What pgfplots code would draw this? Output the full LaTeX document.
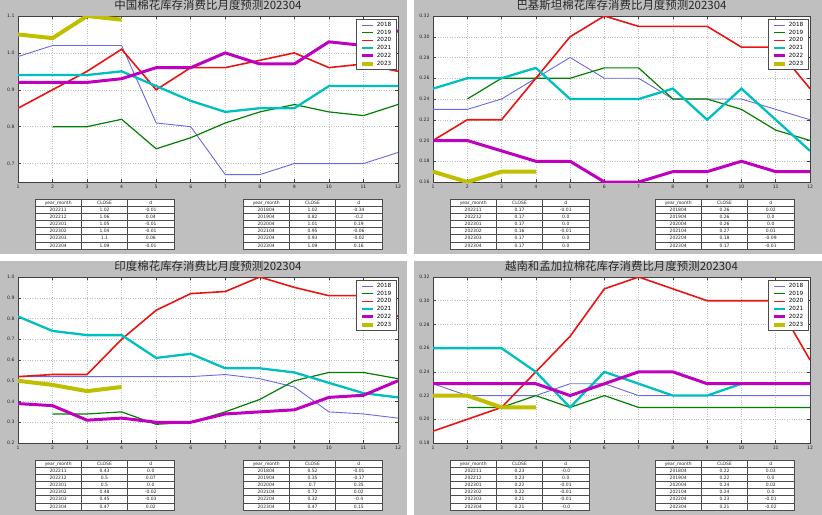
\documentclass[border=0pt]{standalone}
\usepackage{fontspec}
\setmainfont{DejaVu Sans}
\newfontfamily\cjk{Noto Sans CJK SC}
\usepackage{pgfplots}
\pgfplotsset{compat=1.18}

\definecolor{panelgray}{RGB}{191,191,191}
\definecolor{c18}{RGB}{105,105,230}
\definecolor{c19}{RGB}{0,128,0}
\definecolor{c20}{RGB}{235,20,20}
\definecolor{c21}{RGB}{0,191,191}
\definecolor{c22}{RGB}{191,0,191}
\definecolor{c23}{RGB}{191,191,0}

\newcommand\ticfont{\fontsize{4.6}{5}\selectfont}
\newcommand\tabfont{\fontsize{4.5}{5}\selectfont}

\pgfplotsset{
  panel/.style={
    scale only axis, height=166bp,
    xmin=1, xmax=12, xtick={1,...,12},
    grid=major, grid style={dotted, black!25, line width=0.5bp},
    axis line style={black!75, line width=0.7bp},
    tick style={black!75, line width=0.5bp},
    tick align=inside, major tick length=3bp,
    ticklabel style={font=\ticfont, text=black!85},
    scaled ticks=false,
    /pgf/number format/assume math mode=true,
    axis background/.style={fill=white},
    title style={at={(0.5,1)}, anchor=center, yshift=4.5bp,
      font=\cjk\fontsize{11.5}{12}\selectfont, text=black!85},
    legend style={at={(0.997,0.982)}, anchor=north east,
      font=\fontsize{5.7}{6}\selectfont, draw=black!70, line width=0.6bp,
      fill=white, inner xsep=3.5bp, inner ysep=2bp, row sep=0bp,
      cells={anchor=west}, nodes={inner ysep=1bp, inner xsep=1.8bp}},
    legend image code/.code={\draw[##1] (0bp,0bp) -- (11bp,0bp);},
  },
  s18/.style={c18, line width=0.9bp},
  s19/.style={c19, line width=1.2bp},
  s20/.style={c20, line width=1.6bp},
  s21/.style={c21, line width=2.3bp},
  s22/.style={c22, line width=3bp},
  s23/.style={c23, line width=4bp},
}

% table: x left, y top, rows
\newcommand\datatable[3]{%
  \begin{scope}[shift={(#1bp,-#2bp)}, x=1bp, y=1bp]
    \fill[white] (0,0) rectangle (139,-50);
    \foreach \a/\b/\c [count=\r from 0] in {#3} {
      \node[font=\tabfont, text=black!85, inner sep=0, anchor=base] at (23.2,{-(\r+0.5)*50/7-1.6}) {\a};
      \node[font=\tabfont, text=black!85, inner sep=0, anchor=base] at (69.5,{-(\r+0.5)*50/7-1.6}) {\b};
      \node[font=\tabfont, text=black!85, inner sep=0, anchor=base] at (115.8,{-(\r+0.5)*50/7-1.6}) {\c};
    }
    \foreach \r in {1,...,6} \draw[black!70, line width=0.5bp] (0,{-\r*50/7}) -- (139,{-\r*50/7});
    \draw[black!70, line width=0.5bp] (46.3,0) -- (46.3,-50) (92.7,0) -- (92.7,-50);
    \draw[black!70, line width=0.6bp] (0,0) rectangle (139,-50);
  \end{scope}}

\begin{document}
\begin{tikzpicture}
\path[use as bounding box] (0,0) rectangle (822bp,-515bp);
\fill[white] (0,0) rectangle (822bp,-515bp);
\fill[panelgray] (0,0) rectangle (407bp,-254bp);
\fill[panelgray] (414bp,0) rectangle (822bp,-254bp);
\fill[panelgray] (0,-261bp) rectangle (407bp,-515bp);
\fill[panelgray] (414bp,-261bp) rectangle (822bp,-515bp);

% ---------- China ----------
\begin{axis}[panel, width=380bp, at={(18bp,-182bp)}, anchor=south west,
  title={中国棉花库存消费比月度预测202304},
  ymin=0.65, ymax=1.1, ytick={0.7,0.8,0.9,1.0,1.1},
  yticklabel style={/pgf/number format/.cd, fixed, fixed zerofill, precision=1}]
\addplot[s18] coordinates {(1,0.99)(2,1.02)(3,1.02)(4,1.02)(5,0.81)(6,0.80)(7,0.67)(8,0.67)(9,0.70)(10,0.70)(11,0.70)(12,0.73)};
\addplot[s19] coordinates {(2,0.80)(3,0.80)(4,0.82)(5,0.74)(6,0.77)(7,0.81)(8,0.84)(9,0.86)(10,0.84)(11,0.83)(12,0.86)};
\addplot[s20] coordinates {(1,0.85)(2,0.90)(3,0.95)(4,1.01)(5,0.90)(6,0.96)(7,0.96)(8,0.98)(9,1.00)(10,0.96)(11,0.97)(12,0.95)};
\addplot[s21] coordinates {(1,0.94)(2,0.94)(3,0.94)(4,0.95)(5,0.91)(6,0.87)(7,0.84)(8,0.85)(9,0.85)(10,0.91)(11,0.91)(12,0.91)};
\addplot[s22] coordinates {(1,0.92)(2,0.92)(3,0.92)(4,0.93)(5,0.96)(6,0.96)(7,1.00)(8,0.97)(9,0.97)(10,1.03)(11,1.02)(12,1.06)};
\addplot[s23] coordinates {(1,1.05)(2,1.04)(3,1.10)(4,1.09)};
\legend{2018,2019,2020,2021,2022,2023}
\end{axis}

% ---------- Pakistan ----------
\begin{axis}[panel, width=377bp, at={(433bp,-182bp)}, anchor=south west,
  title={巴基斯坦棉花库存消费比月度预测202304},
  ymin=0.16, ymax=0.32, ytick={0.16,0.18,0.20,0.22,0.24,0.26,0.28,0.30,0.32},
  yticklabel style={/pgf/number format/.cd, fixed, fixed zerofill, precision=2}]
\addplot[s18] coordinates {(1,0.23)(2,0.23)(3,0.24)(4,0.26)(5,0.28)(6,0.26)(7,0.26)(8,0.24)(9,0.24)(10,0.24)(11,0.23)(12,0.22)};
\addplot[s19] coordinates {(2,0.24)(3,0.26)(4,0.26)(5,0.26)(6,0.27)(7,0.27)(8,0.24)(9,0.24)(10,0.23)(11,0.21)(12,0.20)};
\addplot[s20] coordinates {(1,0.20)(2,0.22)(3,0.22)(4,0.26)(5,0.30)(6,0.32)(7,0.31)(8,0.31)(9,0.31)(10,0.29)(11,0.29)(12,0.25)};
\addplot[s21] coordinates {(1,0.25)(2,0.26)(3,0.26)(4,0.27)(5,0.24)(6,0.24)(7,0.24)(8,0.25)(9,0.22)(10,0.25)(11,0.22)(12,0.19)};
\addplot[s22] coordinates {(1,0.20)(2,0.20)(3,0.19)(4,0.18)(5,0.18)(6,0.16)(7,0.16)(8,0.17)(9,0.17)(10,0.18)(11,0.17)(12,0.17)};
\addplot[s23] coordinates {(1,0.17)(2,0.16)(3,0.17)(4,0.17)};
\legend{2018,2019,2020,2021,2022,2023}
\end{axis}

% ---------- India ----------
\begin{axis}[panel, width=380bp, at={(18bp,-443bp)}, anchor=south west,
  title={印度棉花库存消费比月度预测202304},
  ymin=0.2, ymax=1.0, ytick={0.2,0.3,0.4,0.5,0.6,0.7,0.8,0.9,1.0},
  yticklabel style={/pgf/number format/.cd, fixed, fixed zerofill, precision=1}]
\addplot[s18] coordinates {(1,0.52)(2,0.52)(3,0.52)(4,0.52)(5,0.52)(6,0.52)(7,0.53)(8,0.51)(9,0.47)(10,0.35)(11,0.34)(12,0.32)};
\addplot[s19] coordinates {(2,0.34)(3,0.34)(4,0.35)(5,0.29)(6,0.30)(7,0.35)(8,0.41)(9,0.50)(10,0.54)(11,0.54)(12,0.51)};
\addplot[s20] coordinates {(1,0.52)(2,0.53)(3,0.53)(4,0.70)(5,0.84)(6,0.92)(7,0.93)(8,1.00)(9,0.95)(10,0.91)(11,0.91)(12,0.81)};
\addplot[s21] coordinates {(1,0.81)(2,0.74)(3,0.72)(4,0.72)(5,0.61)(6,0.63)(7,0.56)(8,0.56)(9,0.54)(10,0.49)(11,0.44)(12,0.42)};
\addplot[s22] coordinates {(1,0.39)(2,0.38)(3,0.31)(4,0.32)(5,0.30)(6,0.30)(7,0.34)(8,0.35)(9,0.36)(10,0.42)(11,0.43)(12,0.50)};
\addplot[s23] coordinates {(1,0.50)(2,0.48)(3,0.45)(4,0.47)};
\legend{2018,2019,2020,2021,2022,2023}
\end{axis}

% ---------- Vietnam & Bangladesh ----------
\begin{axis}[panel, width=377bp, at={(433bp,-443bp)}, anchor=south west,
  title={越南和孟加拉棉花库存消费比月度预测202304},
  ymin=0.18, ymax=0.32, ytick={0.18,0.20,0.22,0.24,0.26,0.28,0.30,0.32},
  yticklabel style={/pgf/number format/.cd, fixed, fixed zerofill, precision=2}]
\addplot[s18] coordinates {(1,0.23)(2,0.22)(3,0.22)(4,0.22)(5,0.23)(6,0.23)(7,0.22)(8,0.22)(9,0.22)(10,0.22)(11,0.22)(12,0.22)};
\addplot[s19] coordinates {(2,0.21)(3,0.21)(4,0.22)(5,0.21)(6,0.22)(7,0.21)(8,0.21)(9,0.21)(10,0.21)(11,0.21)(12,0.21)};
\addplot[s20] coordinates {(1,0.19)(2,0.20)(3,0.21)(4,0.24)(5,0.27)(6,0.31)(7,0.32)(8,0.31)(9,0.30)(10,0.30)(11,0.30)(12,0.25)};
\addplot[s21] coordinates {(1,0.26)(2,0.26)(3,0.26)(4,0.24)(5,0.21)(6,0.24)(7,0.23)(8,0.22)(9,0.22)(10,0.23)(11,0.23)(12,0.23)};
\addplot[s22] coordinates {(1,0.23)(2,0.23)(3,0.23)(4,0.23)(5,0.22)(6,0.23)(7,0.24)(8,0.24)(9,0.23)(10,0.23)(11,0.23)(12,0.23)};
\addplot[s23] coordinates {(1,0.22)(2,0.22)(3,0.21)(4,0.21)};
\legend{2018,2019,2020,2021,2022,2023}
\end{axis}

% ---------- tables ----------
\datatable{35}{199}{year\_month/CLOSE/d, 202211/1.02/-0.01, 202212/1.06/0.04, 202301/1.05/-0.01, 202302/1.04/-0.01, 202303/1.1/0.06, 202304/1.09/-0.01}
\datatable{243}{199}{year\_month/CLOSE/d, 201804/1.02/-0.34, 201904/0.82/-0.2, 202004/1.01/0.19, 202104/0.95/-0.06, 202204/0.93/-0.02, 202304/1.09/0.16}
\datatable{450}{199}{year\_month/CLOSE/d, 202211/0.17/-0.01, 202212/0.17/0.0, 202301/0.17/0.0, 202302/0.16/-0.01, 202303/0.17/0.0, 202304/0.17/0.0}
\datatable{655}{199}{year\_month/CLOSE/d, 201804/0.26/0.02, 201904/0.26/0.0, 202004/0.26/0.0, 202104/0.27/0.01, 202204/0.18/-0.09, 202304/0.17/-0.01}
\datatable{35}{460}{year\_month/CLOSE/d, 202211/0.43/0.0, 202212/0.5/0.07, 202301/0.5/0.0, 202302/0.48/-0.02, 202303/0.45/-0.03, 202304/0.47/0.02}
\datatable{243}{460}{year\_month/CLOSE/d, 201804/0.52/-0.01, 201904/0.35/-0.17, 202004/0.7/0.35, 202104/0.72/0.02, 202204/0.32/-0.4, 202304/0.47/0.15}
\datatable{450}{460}{year\_month/CLOSE/d, 202211/0.23/-0.0, 202212/0.23/0.0, 202301/0.22/-0.01, 202302/0.22/-0.01, 202303/0.21/-0.01, 202304/0.21/-0.0}
\datatable{655}{460}{year\_month/CLOSE/d, 201804/0.22/0.03, 201904/0.22/0.0, 202004/0.24/0.02, 202104/0.24/0.0, 202204/0.23/-0.01, 202304/0.21/-0.02}
\end{tikzpicture}
\end{document}
